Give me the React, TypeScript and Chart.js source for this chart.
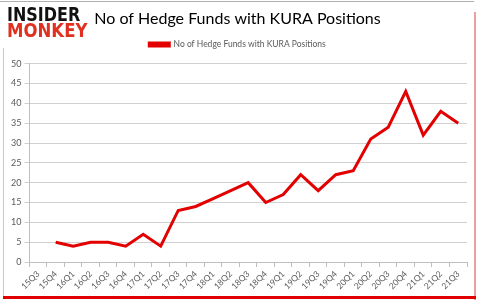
import React, { useEffect, useRef } from "react";
import { Chart, registerables } from "chart.js";

Chart.register(...registerables);

const categories = [
  "15Q3", "15Q4", "16Q1", "16Q2", "16Q3", "16Q4", "17Q1", "17Q2", "17Q3", "17Q4",
  "18Q1", "18Q2", "18Q3", "18Q4", "19Q1", "19Q2", "19Q3", "19Q4", "20Q1", "20Q2",
  "20Q3", "20Q4", "21Q1", "21Q2", "21Q3",
];
const hedgeFunds: (number | null)[] = [
  null, 5, 4, 5, 5, 4, 7, 4, 13, 14,
  16, 18, 20, 15, 17, 22, 18, 22, 23, 31,
  34, 43, 32, 38, 35,
];
const seriesName = "No of Hedge Funds with KURA Positions";
const chartTitle = "No of Hedge Funds with KURA Positions";
const yTicks = [0, 5, 10, 15, 20, 25, 30, 35, 40, 45, 50];

const legendGap = {
  id: "legendGap",
  afterInit(chart: any) {
    const legend = chart.legend;
    if (!legend || legend._gapPatched) return;
    const orig = legend.fit;
    legend.fit = function () {
      orig.call(this);
      this.height += 5;
    };
    legend._gapPatched = true;
  },
};

export default function App() {
  const ref = useRef<HTMLCanvasElement | null>(null);
  useEffect(() => {
    document.body.style.margin = "0";
    if (!ref.current) return;
    const chart = new Chart(ref.current, {
      type: "line",
      data: {
        labels: categories,
        datasets: [
          {
            label: seriesName,
            data: hedgeFunds,
            borderColor: "#e30000",
            backgroundColor: "#e30000",
            borderWidth: 3,
            pointRadius: 0,
            tension: 0,
          },
        ],
      },
      plugins: [legendGap],
      options: {
        animation: false,
        responsive: false,
        layout: { padding: { left: 8, right: 13, top: 3, bottom: 0 } },
        plugins: {
          title: {
            display: true,
            text: chartTitle,
            color: "#000",
            font: { family: "Lato", size: 16, weight: "normal" },
            padding: { top: 6, bottom: 6 },
          },
          legend: {
            display: true,
            labels: {
              color: "#595959",
              font: { family: "Lato", size: 8.5 },
              boxWidth: 20,
              boxHeight: 3,
              padding: 6,
            },
          },
          tooltip: { enabled: false },
        },
        scales: {
          x: {
            offset: true,
            afterFit: (axis: any) => {
              axis.height = 43;
            },
            grid: {
              drawOnChartArea: false,
              drawTicks: true,
              tickLength: 5,
              color: "#bfbfbf",
              offset: true,
            },
            border: { color: "#bfbfbf" },
            ticks: {
              color: "#595959",
              font: { family: "Lato", size: 8.5 },
              maxRotation: 45,
              minRotation: 45,
              autoSkip: false,
              padding: 2,
            },
          },
          y: {
            min: 0,
            max: 50,
            afterBuildTicks: (axis: any) => {
              axis.ticks = yTicks.map((v) => ({ value: v }));
            },
            grid: { color: "#d0d0d0", tickLength: 5 },
            border: { color: "#bfbfbf" },
            ticks: {
              color: "#595959",
              font: { family: "Lato", size: 9 },
              padding: 3,
            },
          },
        },
      },
    });
    return () => chart.destroy();
  }, []);

  return (
    <div style={{ position: "absolute", left: 0, top: 0, width: 480, height: 305, background: "#fff", overflow: "hidden" }}>
      <canvas ref={ref} width={480} height={305} style={{ position: "absolute", left: 0, top: 0 }} />
      <div style={{ position: "absolute", left: 0, top: 1, width: 474, height: 1, background: "#b0b0b0" }} />
      <div style={{ position: "absolute", left: 474, top: 12, width: 2, height: 288, background: "#e8a0a0" }} />
      <div style={{ position: "absolute", left: 3, top: 48, width: 1, height: 248, background: "#f0b8b8" }} />
      <div style={{ position: "absolute", left: 3, top: 296, width: 473, height: 3, background: "#e00000" }} />
      <div style={{ position: "absolute", left: 7, top: 5, fontFamily: "DejaVu Sans", fontWeight: 900, fontSize: 19, lineHeight: "19px", color: "#111", whiteSpace: "nowrap", transform: "scaleX(0.84)", transformOrigin: "left top" }}>INSIDER</div>
      <div style={{ position: "absolute", left: 7, top: 21, fontFamily: "DejaVu Sans", fontWeight: 900, fontSize: 19, lineHeight: "19px", color: "#e03020", whiteSpace: "nowrap", transform: "scaleX(0.87)", transformOrigin: "left top" }}>MONKEY</div>
    </div>
  );
}
